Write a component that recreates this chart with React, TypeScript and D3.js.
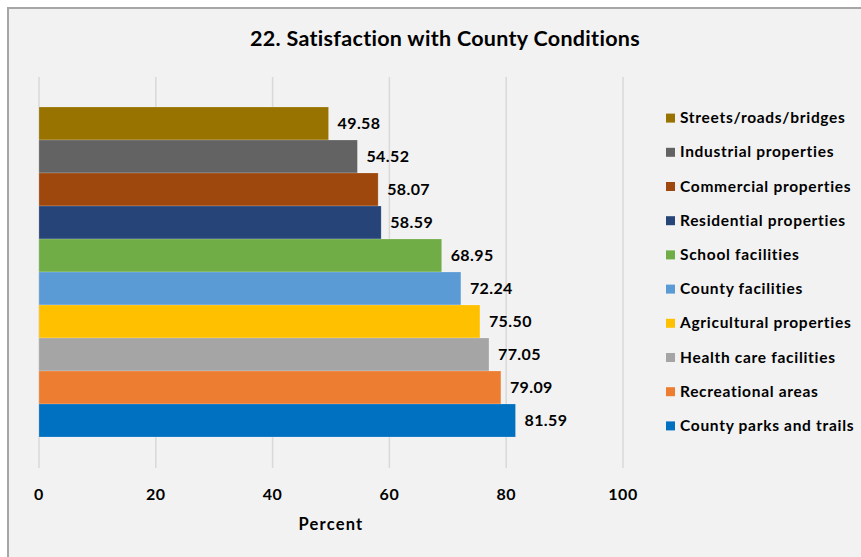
import React from "react";
import * as d3 from "d3";

const categories = [
  "Streets/roads/bridges",
  "Industrial properties",
  "Commercial properties",
  "Residential properties",
  "School facilities",
  "County facilities",
  "Agricultural properties",
  "Health care facilities",
  "Recreational areas",
  "County parks and trails",
];
const values = [49.58, 54.52, 58.07, 58.59, 68.95, 72.24, 75.5, 77.05, 79.09, 81.59];
const colors = [
  "#997300",
  "#636363",
  "#9E480E",
  "#264478",
  "#70AD47",
  "#5B9BD5",
  "#FFC000",
  "#A5A5A5",
  "#ED7D31",
  "#0070C0",
];
const xTicks = [0, 20, 40, 60, 80, 100];
const title = "22. Satisfaction with County Conditions";
const xTitle = "Percent";

const W = 861;
const H = 557;
const FONT = "Lato, 'Open Sans', sans-serif";

export default function App() {
  const x = d3.scaleLinear().domain([0, 100]).range([39, 623]);
  const plotTop = 77;
  const plotBottom = 468;
  const y = d3
    .scaleBand<string>()
    .domain(categories)
    .range([107, 437])
    .padding(0);
  const legendY = d3.scaleBand<string>().domain(categories).range([101, 443]);

  return (
    <svg
      width={W}
      height={H}
      style={{ position: "absolute", left: 0, top: 0 }}
      fontFamily={FONT}
    >
      <rect x={0} y={0} width={W} height={H} fill="#ffffff" />
      <rect x={8} y={8} width={W + 20} height={H + 20} fill="#f2f2f2" stroke="#a6a6a6" strokeWidth={2} />
      <text x={445} y={46} textAnchor="middle" fontSize={21.5} fontWeight={700} letterSpacing={0.3} fill="#000">
        {title}
      </text>
      {xTicks.map((t) => (
        <g key={t}>
          <line x1={x(t)} x2={x(t)} y1={plotTop} y2={plotBottom} stroke="#d9d9d9" strokeWidth={1.5} />
          <text x={x(t)} y={500} textAnchor="middle" fontSize={16} fontWeight={700} letterSpacing={0.5} fill="#000">
            {t}
          </text>
        </g>
      ))}
      {categories.map((c, i) => (
        <g key={c}>
          <rect
            x={x(0)}
            y={y(c)!}
            width={x(values[i]) - x(0)}
            height={y.bandwidth()}
            fill={colors[i]}
            stroke="rgba(255,255,255,0.25)"
            strokeWidth={0.75}
          />
          <text
            x={x(values[i]) + 9}
            y={y(c)! + y.bandwidth() / 2 + 5.5}
            fontSize={16}
            fontWeight={700}
            letterSpacing={0.4}
            fill="#000"
          >
            {values[i].toFixed(2)}
          </text>
        </g>
      ))}
      <text x={331} y={530} textAnchor="middle" fontSize={16.5} fontWeight={700} letterSpacing={1.2} fill="#000">
        {xTitle}
      </text>
      {categories.map((c, i) => {
        const cy = legendY(c)! + legendY.bandwidth() / 2;
        return (
          <g key={"lg" + c}>
            <rect x={666} y={cy - 4.5} width={9} height={9} fill={colors[i]} />
            <text x={680} y={cy + 5} fontSize={15.5} fontWeight={700} letterSpacing={0.7} fill="#000">
              {c}
            </text>
          </g>
        );
      })}
    </svg>
  );
}
